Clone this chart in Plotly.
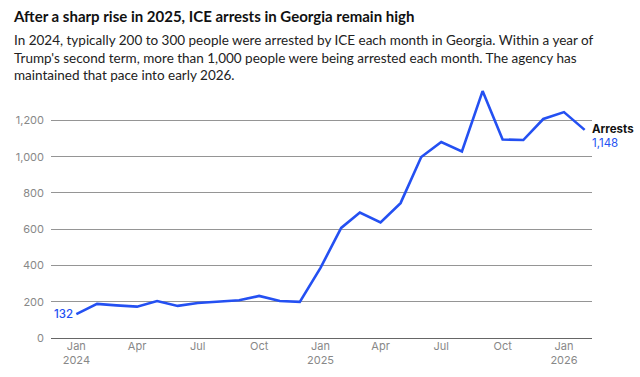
import plotly.graph_objects as go

months = ["2024-01-01","2024-02-01","2024-03-01","2024-04-01","2024-05-01","2024-06-01",
          "2024-07-01","2024-08-01","2024-09-01","2024-10-01","2024-11-01","2024-12-01",
          "2025-01-01","2025-02-01","2025-03-01","2025-04-01","2025-05-01","2025-06-01",
          "2025-07-01","2025-08-01","2025-09-01","2025-10-01","2025-11-01","2025-12-01",
          "2026-01-01","2026-02-01"]
arrests = [132, 188, 180, 173, 204, 177, 193, 201, 208, 232, 204, 199,
           387, 607, 692, 637, 744, 998, 1081, 1029, 1362, 1095, 1092, 1208,
           1246, 1148]

tick_vals = ["2024-01-01","2024-04-01","2024-07-01","2024-10-01","2025-01-01",
             "2025-04-01","2025-07-01","2025-10-01","2026-01-01"]
tick_text = ["Jan<br>2024","Apr","Jul","Oct","Jan<br>2025","Apr","Jul","Oct","Jan<br>2026"]
y_ticks = [0, 200, 400, 600, 800, 1000, 1200]
y_text = ["0","200","400","600","800","1,000","1,200"]

title = "After a sharp rise in 2025, ICE arrests in Georgia remain high"
subtitle = ("In 2024, typically 200 to 300 people were arrested by ICE each month in Georgia. Within a year of<br>"
            "Trump's second term, more than 1,000 people were being arrested each month. The agency has<br>"
            "maintained that pace into early 2026.")

BLUE = "#2450f2"
L, R, T, B = 51, 48, 86, 39
W, H = 640, 377
pw, ph = W - L - R, H - T - B

def px_x(p):
    return (p - L) / pw

def px_y(p):
    return (H - B - p) / ph

fig = go.Figure()
fig.add_trace(go.Scatter(x=months, y=arrests, mode="lines",
                         line=dict(color=BLUE, width=2.6), hoverinfo="skip"))

fig.add_annotation(x=months[0], y=arrests[0], text=f"{arrests[0]:,}", showarrow=False,
                   xanchor="right", yanchor="middle", xshift=-1,
                   font=dict(family="Inter", size=11.5, color=BLUE, weight=500))
fig.add_annotation(x=months[-1], y=arrests[-1], text="<b>Arrests</b>", showarrow=False,
                   xanchor="left", yanchor="bottom", xshift=5, yshift=-8,
                   font=dict(family="Inter", size=11.5, color="#111"))
fig.add_annotation(x=months[-1], y=arrests[-1], text=f"{arrests[-1]:,}", showarrow=False,
                   xanchor="left", yanchor="top", xshift=5, yshift=-4,
                   font=dict(family="Inter", size=11.5, color=BLUE))

fig.add_annotation(xref="paper", yref="paper", x=px_x(11), y=px_y(5), text=f"<b>{title}</b>",
                   showarrow=False, xanchor="left", yanchor="top", align="left",
                   font=dict(family="Lato", size=15, color="#111", weight=900))
fig.add_annotation(xref="paper", yref="paper", x=px_x(12), y=px_y(30), text=subtitle,
                   showarrow=False, xanchor="left", yanchor="top", align="left",
                   font=dict(family="Lato", size=13.5, color="#222"))

fig.update_layout(
    width=W, height=H, margin=dict(l=L, r=R, t=T, b=B, autoexpand=False),
    paper_bgcolor="white", plot_bgcolor="white", showlegend=False,
    xaxis=dict(range=["2023-11-24", "2026-02-12"], tickvals=tick_vals, ticktext=tick_text,
               showgrid=False, zeroline=False, showline=False, ticks="", automargin=False,
               tickfont=dict(family="Inter", size=11, color="#888")),
    yaxis=dict(range=[0, 1390], tickvals=y_ticks, ticktext=y_text, showgrid=True,
               gridcolor="#959595", gridwidth=1, zeroline=True, zerolinecolor="#666",
               zerolinewidth=1, showline=False, ticks="", ticklabelstandoff=6, automargin=False,
               tickfont=dict(family="Inter", size=11, color="#888")),
)

fig.write_html("out.html", config={"displayModeBar": False},
               post_script="document.body.style.margin='0';")
